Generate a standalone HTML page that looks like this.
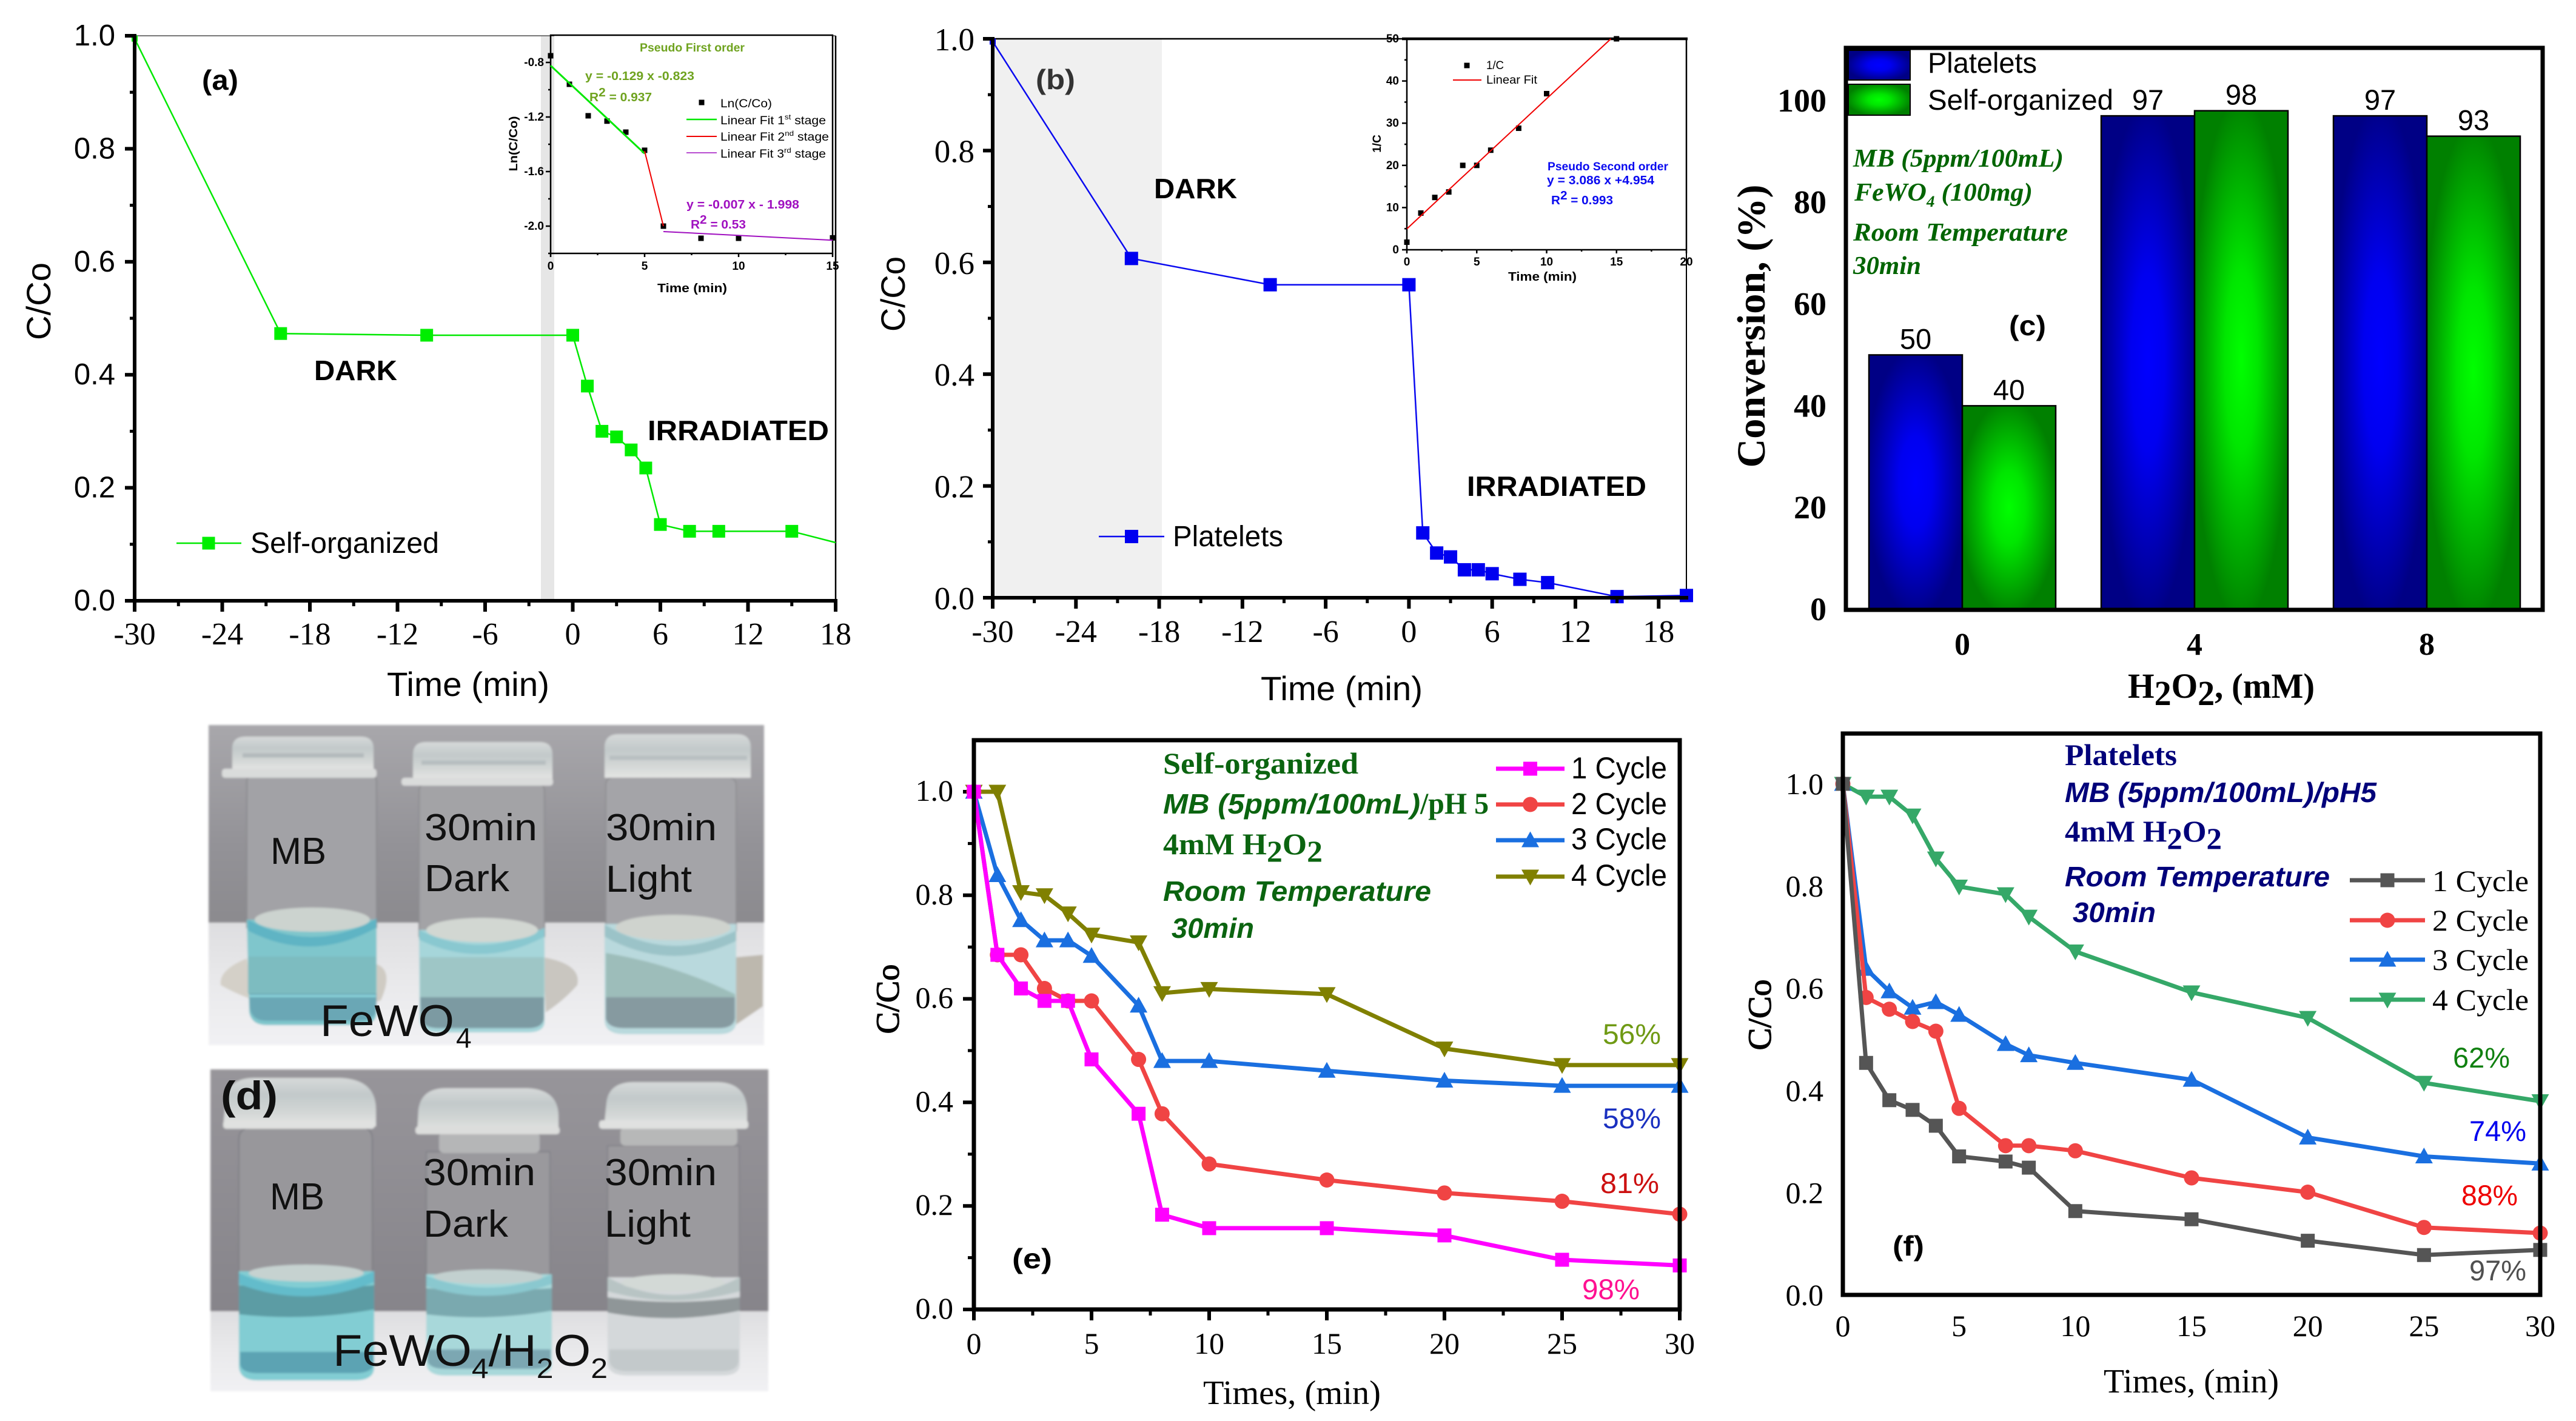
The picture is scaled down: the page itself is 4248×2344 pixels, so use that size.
<!DOCTYPE html>
<html lang="en">
<head>
<meta charset="utf-8">
<title>FeWO4 photocatalysis figure</title>
<style>
html,body{margin:0;padding:0;background:#fff;}
svg{display:block;}
.s{font-family:"Liberation Sans",sans-serif;}
.r{font-family:"Liberation Serif",serif;}
.b{font-weight:bold;}
.i{font-style:italic;}
</style>
</head>
<body>
<svg id="figure" xmlns="http://www.w3.org/2000/svg" width="4248" height="2344" viewBox="0 0 4248 2344">
<defs>
<radialGradient id="blueBar" cx="50%" cy="50%" r="60%"><stop offset="0" stop-color="#0000ff"/><stop offset=".3" stop-color="#0000f0"/><stop offset=".88" stop-color="#000085"/></radialGradient>
<radialGradient id="greenBar" cx="50%" cy="50%" r="60%"><stop offset="0" stop-color="#00ff00"/><stop offset=".3" stop-color="#00e600"/><stop offset=".88" stop-color="#008000"/></radialGradient>
<linearGradient id="wall1" x1="0" y1="0" x2="0" y2="1"><stop offset="0" stop-color="#a8a7ab"/><stop offset=".6" stop-color="#939297"/><stop offset="1" stop-color="#8b8a8e"/></linearGradient>
<linearGradient id="wall2" x1="0" y1="0" x2="0" y2="1"><stop offset="0" stop-color="#97959a"/><stop offset="1" stop-color="#86848a"/></linearGradient>
<linearGradient id="table" x1="0" y1="0" x2="0" y2="1"><stop offset="0" stop-color="#dedee0"/><stop offset=".5" stop-color="#e9e9eb"/><stop offset="1" stop-color="#f1f1f4"/></linearGradient>
<linearGradient id="capFill" x1="0" y1="0" x2="0" y2="1"><stop offset="0" stop-color="#d6d9d9"/><stop offset=".35" stop-color="#c2c9ca"/><stop offset=".7" stop-color="#d2d6d5"/><stop offset="1" stop-color="#e4e5e4"/></linearGradient>
<filter id="soft" x="-3%" y="-3%" width="106%" height="106%"><feGaussianBlur stdDeviation="1.8"/></filter>
</defs>

<!-- PHOTOS (d) -->
<g id="photo-one">
<g filter="url(#soft)">
<rect x="344" y="1196" width="916" height="328" fill="url(#wall1)"/>
<rect x="344" y="1522" width="916" height="202" fill="url(#table)"/>
<path d="M620 1590Q650 1600 628 1650L600 1660Z" fill="#cfcbc3"/>
<path d="M407 1581Q360 1600 364 1625Q390 1640 420 1650Z" fill="#d4d0c8"/>
<path d="M895 1579Q960 1590 952 1625Q930 1650 900 1670Z" fill="#c9c6c0"/>
<path d="M1214 1579L1258 1575V1660L1214 1690Z" fill="#bdb8ae"/>
<g>
<path d="M407 1290Q407 1278 420 1278H608Q621 1278 621 1290V1530H407Z" fill="#a2a2a6" stroke="#8a8a8e" stroke-width="2"/>
<path d="M407 1517H621V1670Q621 1691 590 1691H440Q415 1691 411 1670Z" fill="#7fc6cc"/>
<path d="M409 1578H620V1639H409Z" fill="#7dbcc0"/>
<path d="M411 1639H621V1662Q620 1684 590 1684H440Q415 1684 412 1662Z" fill="#6aa7b5"/>
<path d="M411 1643H620" stroke="#8fdbe2" stroke-width="3"/>
<path d="M409 1517Q515 1575 621 1515V1530Q515 1590 409 1535Z" fill="#5fb4c4"/>
<ellipse cx="515" cy="1517" rx="95" ry="20" fill="#ccd3cf"/>
<path d="M383 1235Q383 1215 405 1215H595Q616 1215 616 1235V1270H383Z" fill="url(#capFill)"/>
<rect x="366" y="1268" width="255" height="15" rx="5" fill="#dadcdb"/>
<path d="M400 1246H600" stroke="#b2babc" stroke-width="7"/>
</g>
<g>
<path d="M691 1305Q691 1293 704 1293H885Q898 1293 898 1305V1545H691Z" fill="#a3a3a6" stroke="#8c8c90" stroke-width="2"/>
<path d="M691 1534H898V1685Q898 1703 870 1703H725Q695 1703 692 1685Z" fill="#a6d6da"/>
<path d="M693 1579H897V1645H693Z" fill="#9ec6c6"/>
<path d="M693 1645H897V1680Q895 1696 870 1696H725Q697 1696 694 1680Z" fill="#7c9aa2"/>
<path d="M691 1534Q795 1585 898 1530V1545Q795 1600 691 1550Z" fill="#89c8d0"/>
<ellipse cx="795" cy="1534" rx="92" ry="20" fill="#d2d7d2"/>
<path d="M681 1245Q681 1224 702 1224H890Q911 1224 911 1245V1285H681Z" fill="url(#capFill)"/>
<rect x="662" y="1283" width="250" height="13" rx="5" fill="#dadcdb"/>
<path d="M695 1258H900" stroke="#b6bdbf" stroke-width="7"/>
</g>
<g>
<path d="M999 1295Q999 1283 1012 1283H1200Q1214 1283 1214 1295V1535H999Z" fill="#a4a4a8" stroke="#8e8e92" stroke-width="2"/>
<path d="M997 1524H1214V1685Q1214 1706 1185 1706H1030Q999 1706 997 1685Z" fill="#b9d9dd"/>
<path d="M999 1572Q1110 1590 1212 1640V1645H999Z" fill="#9dbdba"/>
<path d="M999 1645H1212V1680Q1210 1696 1185 1696H1030Q1002 1696 999 1680Z" fill="#869aa0"/>
<path d="M997 1525Q1105 1590 1214 1535V1552Q1105 1605 997 1545Z" fill="#9bc3c8"/>
<ellipse cx="1110" cy="1530" rx="95" ry="21" fill="#cfd3ce"/>
<path d="M997 1233Q997 1211 1020 1211H1215Q1238 1211 1238 1233V1283H997Z" fill="url(#capFill)"/>
<path d="M1005 1250H1232" stroke="#b8bfc1" stroke-width="7"/>
</g>
</g>
</g>
<g id="photo-two">
<g filter="url(#soft)">
<rect x="347" y="1764" width="920" height="400" fill="url(#wall2)"/>
<rect x="347" y="2163" width="920" height="132" fill="url(#table)"/>
<g>
<path d="M394 1880Q394 1860 415 1860H595Q614 1860 614 1880V2110H394Z" fill="#98979b" stroke="#7e7e83" stroke-width="2"/>
<path d="M394 2097H617V2255Q617 2277 585 2277H425Q396 2277 394 2255Z" fill="#82cdd3"/>
<path d="M394 2120Q505 2130 617 2120V2160Q505 2180 394 2168Z" fill="#5c9ca4"/>
<path d="M396 2230H616V2250Q614 2265 585 2265H425Q398 2265 396 2250Z" fill="#5ba3b3"/>
<path d="M394 2100Q505 2150 617 2097V2115Q505 2160 394 2118Z" fill="#63bccb"/>
<ellipse cx="505" cy="2100" rx="95" ry="14" fill="#c6d2d0"/>
<path d="M372 1815Q375 1778 420 1778H560Q620 1780 620 1830V1858H368Z" fill="url(#capFill)"/>
<rect x="368" y="1848" width="250" height="14" rx="5" fill="#e0e1e0"/>
</g>
<g>
<path d="M703 1900H907V2115H703Z" fill="#9a999d" stroke="#828287" stroke-width="2"/>
<path d="M703 2102H910V2250Q910 2269 880 2269H735Q705 2269 703 2250Z" fill="#a8d8da"/>
<path d="M703 2125Q805 2132 910 2125V2162Q805 2180 703 2168Z" fill="#7aa9af"/>
<path d="M705 2226H908V2245Q906 2258 880 2258H735Q708 2258 705 2245Z" fill="#7ba7b2"/>
<path d="M703 2104Q805 2145 910 2102V2118Q805 2155 703 2122Z" fill="#8ac8cf"/>
<ellipse cx="805" cy="2106" rx="90" ry="12" fill="#c2d0cf"/>
<rect x="724" y="1868" width="166" height="34" rx="8" fill="#b5b6b7"/>
<path d="M690 1830Q695 1795 735 1795H870Q920 1797 921 1840V1868H688Z" fill="url(#capFill)"/>
<rect x="685" y="1858" width="238" height="13" rx="5" fill="#dcdddc"/>
</g>
<g>
<path d="M1002 1890H1219V2120H1002Z" fill="#9b9a9e" stroke="#838388" stroke-width="2"/>
<path d="M1002 2107H1220V2250Q1220 2269 1190 2269H1035Q1004 2269 1002 2250Z" fill="#d4d8da"/>
<path d="M1002 2140Q1110 2155 1220 2140V2162Q1110 2185 1002 2165Z" fill="#8f9698"/>
<path d="M1002 2107Q1110 2165 1220 2107V2130Q1110 2160 1002 2130Z" fill="#b8c4c4"/>
<path d="M1005 2226H1218V2245Q1216 2262 1190 2262H1035Q1008 2262 1005 2245Z" fill="#c3c9cb"/>
<ellipse cx="1110" cy="2116" rx="85" ry="14" fill="#d3d9d6"/>
<rect x="1023" y="1860" width="193" height="30" rx="8" fill="#b7b8b8"/>
<path d="M1000 1820Q1003 1785 1045 1785H1185Q1230 1787 1232 1830V1860H996Z" fill="url(#capFill)"/>
<rect x="988" y="1848" width="246" height="14" rx="5" fill="#e0e1e0"/>
</g>
</g>
</g>
<g id="photo-labels" class="s" font-size="62" fill="#111">
<text x="446" y="1425" textLength="92" lengthAdjust="spacingAndGlyphs">MB</text>
<text x="700" y="1386" textLength="186" lengthAdjust="spacingAndGlyphs">30min</text>
<text x="700" y="1470" textLength="140" lengthAdjust="spacingAndGlyphs">Dark</text>
<text x="999" y="1386" textLength="183" lengthAdjust="spacingAndGlyphs">30min</text>
<text x="999" y="1471" textLength="142" lengthAdjust="spacingAndGlyphs">Light</text>
<text x="528" y="1709" font-size="73" textLength="221" lengthAdjust="spacingAndGlyphs">FeWO</text>
<text x="752" y="1728" font-size="46">4</text>
<text class="b" x="364" y="1830" font-size="66" textLength="94" lengthAdjust="spacingAndGlyphs">(d)</text>
<text x="445" y="1995" textLength="90" lengthAdjust="spacingAndGlyphs">MB</text>
<text x="698" y="1955" textLength="185" lengthAdjust="spacingAndGlyphs">30min</text>
<text x="698" y="2040" textLength="140" lengthAdjust="spacingAndGlyphs">Dark</text>
<text x="997" y="1955" textLength="185" lengthAdjust="spacingAndGlyphs">30min</text>
<text x="997" y="2040" textLength="142" lengthAdjust="spacingAndGlyphs">Light</text>
<text x="549" y="2253" font-size="73" textLength="453" lengthAdjust="spacingAndGlyphs">FeWO<tspan font-size="46" dy="20">4</tspan><tspan dy="-20">/H</tspan><tspan font-size="46" dy="20">2</tspan><tspan dy="-20">O</tspan><tspan font-size="46" dy="20">2</tspan></text>
</g>

<!-- PANEL A -->
<g id="panel-a"></g>
<g id="panel-a-text" fill="#000">
<text class="s b" x="333" y="148" font-size="46" textLength="60" lengthAdjust="spacingAndGlyphs">(a)</text>
<text class="s b" x="518" y="627" font-size="46" textLength="137" lengthAdjust="spacingAndGlyphs">DARK</text>
<text class="s b" x="1068" y="726" font-size="46" textLength="299" lengthAdjust="spacingAndGlyphs">IRRADIATED</text>
<text class="s" x="413" y="912" font-size="48" textLength="311" lengthAdjust="spacingAndGlyphs">Self-organized</text>
<text class="s" transform="translate(83,497) rotate(-90)" text-anchor="middle" font-size="56" textLength="128" lengthAdjust="spacingAndGlyphs">C/Co</text>
<text class="s" x="638" y="1148" font-size="56" textLength="268" lengthAdjust="spacingAndGlyphs">Time (min)</text>
</g>
<g id="inset-a"></g>
<g id="inset-a-text" class="s" font-size="19">
<text class="b" x="1055" y="85" fill="#6fa31f" textLength="173" lengthAdjust="spacingAndGlyphs">Pseudo First order</text>
<text class="b" x="965" y="132" font-size="20" fill="#6fa31f" textLength="180" lengthAdjust="spacingAndGlyphs">y = -0.129 x -0.823</text>
<text class="b" x="972" y="167" font-size="20" fill="#6fa31f" textLength="103" lengthAdjust="spacingAndGlyphs">R<tspan dy="-8">2</tspan><tspan dy="8"> = 0.937</tspan></text>
<text x="1188" y="177" textLength="85" lengthAdjust="spacingAndGlyphs">Ln(C/Co)</text>
<text x="1188" y="205" textLength="174" lengthAdjust="spacingAndGlyphs">Linear Fit 1<tspan font-size="12" dy="-8">st</tspan><tspan dy="8"> stage</tspan></text>
<text x="1188" y="232" textLength="179" lengthAdjust="spacingAndGlyphs">Linear Fit 2<tspan font-size="12" dy="-8">nd</tspan><tspan dy="8"> stage</tspan></text>
<text x="1188" y="260" textLength="174" lengthAdjust="spacingAndGlyphs">Linear Fit 3<tspan font-size="12" dy="-8">rd</tspan><tspan dy="8"> stage</tspan></text>
<text class="b" x="1132" y="344" font-size="20" fill="#a010c0" textLength="186" lengthAdjust="spacingAndGlyphs">y = -0.007 x - 1.998</text>
<text class="b" x="1139" y="377" font-size="20" fill="#a010c0" textLength="91" lengthAdjust="spacingAndGlyphs">R<tspan dy="-8">2</tspan><tspan dy="8"> = 0.53</tspan></text>
<text class="b" x="1084" y="482" font-size="20" textLength="115" lengthAdjust="spacingAndGlyphs">Time (min)</text>
<text class="b" transform="translate(853,237) rotate(-90)" text-anchor="middle" font-size="19" textLength="91" lengthAdjust="spacingAndGlyphs">Ln(C/Co)</text>
</g>

<!-- PANEL B -->
<g id="panel-b"></g>
<g id="panel-b-text" fill="#000">
<text class="s b" x="1708" y="147" font-size="46" fill="#333" textLength="65" lengthAdjust="spacingAndGlyphs">(b)</text>
<text class="s b" x="1903" y="327" font-size="46" textLength="137" lengthAdjust="spacingAndGlyphs">DARK</text>
<text class="s b" x="2419" y="818" font-size="46" textLength="296" lengthAdjust="spacingAndGlyphs">IRRADIATED</text>
<text class="s" x="1934" y="901" font-size="48" textLength="182" lengthAdjust="spacingAndGlyphs">Platelets</text>
<text class="s" transform="translate(1492,485) rotate(-90)" text-anchor="middle" font-size="56" textLength="124" lengthAdjust="spacingAndGlyphs">C/Co</text>
<text class="s" x="2079" y="1155" font-size="56" textLength="267" lengthAdjust="spacingAndGlyphs">Time (min)</text>
</g>
<g id="inset-b"></g>
<g id="inset-b-text" class="s" font-size="19">
<text x="2451" y="114" textLength="29" lengthAdjust="spacingAndGlyphs">1/C</text>
<text x="2451" y="138" textLength="84" lengthAdjust="spacingAndGlyphs">Linear Fit</text>
<text class="b" x="2552" y="281" fill="#0a0af0" textLength="199" lengthAdjust="spacingAndGlyphs">Pseudo Second order</text>
<text class="b" x="2551" y="304" font-size="20" fill="#0a0af0" textLength="177" lengthAdjust="spacingAndGlyphs">y = 3.086 x +4.954</text>
<text class="b" x="2558" y="337" font-size="20" fill="#0a0af0" textLength="102" lengthAdjust="spacingAndGlyphs">R<tspan dy="-8">2</tspan><tspan dy="8"> = 0.993</tspan></text>
<text class="b" x="2487" y="463" font-size="20" textLength="113" lengthAdjust="spacingAndGlyphs">Time (min)</text>
<text class="b" transform="translate(2277,237) rotate(-90)" text-anchor="middle" font-size="19">1/C</text>
</g>

<!-- PANEL C -->
<g id="panel-c"></g>
<g id="panel-c-text">
<rect x="3048" y="83" width="102" height="49" fill="url(#blueBar)" stroke="#000" stroke-width="2"/>
<rect x="3048" y="139" width="102" height="51" fill="url(#greenBar)" stroke="#000" stroke-width="2"/>
<text class="s" x="3179" y="120" font-size="47" textLength="180" lengthAdjust="spacingAndGlyphs">Platelets</text>
<text class="s" x="3179" y="181" font-size="47" textLength="306" lengthAdjust="spacingAndGlyphs">Self-organized</text>
<g class="r b i" fill="#006400" font-size="42">
<text x="3056" y="275" textLength="347" lengthAdjust="spacingAndGlyphs">MB (5ppm/100mL)</text>
<text x="3058" y="331" textLength="294" lengthAdjust="spacingAndGlyphs">FeWO<tspan font-size="26" dy="10">4</tspan><tspan dy="-10"> (100mg)</tspan></text>
<text x="3056" y="397" textLength="354" lengthAdjust="spacingAndGlyphs">Room Temperature</text>
<text x="3056" y="452" textLength="112" lengthAdjust="spacingAndGlyphs">30min</text>
</g>
<text class="s b" x="3313" y="553" font-size="46" textLength="61" lengthAdjust="spacingAndGlyphs">(c)</text>
<text class="r b" transform="translate(2910,538) rotate(-90)" text-anchor="middle" font-size="66" textLength="467" lengthAdjust="spacingAndGlyphs">Conversion, (%)</text>
<text class="r b" x="3509" y="1151" font-size="58" textLength="308" lengthAdjust="spacingAndGlyphs">H<tspan dy="12">2</tspan><tspan dy="-12">O</tspan><tspan dy="12">2</tspan><tspan dy="-12">, (mM)</tspan></text>
</g>

<!-- PANEL E -->
<g id="panel-e"></g>
<g id="panel-e-text">
<g fill="#0b6410">
<text class="r b" x="1918" y="1276" font-size="50" textLength="322" lengthAdjust="spacingAndGlyphs">Self-organized</text>
<text class="s b i" x="1918" y="1342" font-size="46" textLength="424" lengthAdjust="spacingAndGlyphs">MB (5ppm/100mL)</text>
<text class="r b" x="2342" y="1342" font-size="50" textLength="113" lengthAdjust="spacingAndGlyphs">/pH 5</text>
<text class="r b" x="1918" y="1409" font-size="50" textLength="263" lengthAdjust="spacingAndGlyphs">4mM H<tspan dy="12">2</tspan><tspan dy="-12">O</tspan><tspan dy="12">2</tspan></text>
<text class="s b i" x="1918" y="1486" font-size="46" textLength="442" lengthAdjust="spacingAndGlyphs">Room Temperature</text>
<text class="s b i" x="1932" y="1547" font-size="46" textLength="136" lengthAdjust="spacingAndGlyphs">30min</text>
</g>
<text class="s b" x="1669" y="2092" font-size="46" textLength="66" lengthAdjust="spacingAndGlyphs">(e)</text>
<text class="r" stroke="#000" stroke-width="1.2" transform="translate(1482,1648) rotate(-90)" text-anchor="middle" font-size="54" textLength="115" lengthAdjust="spacingAndGlyphs">C/Co</text>
<text class="r" x="1984" y="2316" font-size="56" textLength="293" lengthAdjust="spacingAndGlyphs">Times, (min)</text>
<g class="s" font-size="47">
<text x="2643" y="1722" fill="#6f9a14" textLength="96" lengthAdjust="spacingAndGlyphs">56%</text>
<text x="2643" y="1861" fill="#1a30c0" textLength="96" lengthAdjust="spacingAndGlyphs">58%</text>
<text x="2639" y="1968" fill="#cc1010" textLength="97" lengthAdjust="spacingAndGlyphs">81%</text>
<text x="2609" y="2143" fill="#ff1090" textLength="95" lengthAdjust="spacingAndGlyphs">98%</text>
</g>
</g>

<!-- PANEL F -->
<g id="panel-f"></g>
<g id="panel-f-text">
<g fill="#00007a">
<text class="r b" x="3405" y="1262" font-size="50" textLength="185" lengthAdjust="spacingAndGlyphs">Platelets</text>
<text class="s b i" x="3405" y="1323" font-size="46" textLength="514" lengthAdjust="spacingAndGlyphs">MB (5ppm/100mL)/pH5</text>
<text class="r b" x="3405" y="1388" font-size="50" textLength="259" lengthAdjust="spacingAndGlyphs">4mM H<tspan dy="12">2</tspan><tspan dy="-12">O</tspan><tspan dy="12">2</tspan></text>
<text class="s b i" x="3405" y="1462" font-size="46" textLength="437" lengthAdjust="spacingAndGlyphs">Room Temperature</text>
<text class="s b i" x="3418" y="1521" font-size="46" textLength="137" lengthAdjust="spacingAndGlyphs">30min</text>
</g>
<text class="s b" x="3121" y="2071" font-size="46" textLength="52" lengthAdjust="spacingAndGlyphs">(f)</text>
<text class="r" stroke="#000" stroke-width="1.2" transform="translate(2920,1674) rotate(-90)" text-anchor="middle" font-size="54" textLength="117" lengthAdjust="spacingAndGlyphs">C/Co</text>
<text class="r" x="3469" y="2297" font-size="56" textLength="289" lengthAdjust="spacingAndGlyphs">Times, (min)</text>
<g class="s" font-size="47">
<text x="4045" y="1761" fill="#108010" textLength="94" lengthAdjust="spacingAndGlyphs">62%</text>
<text x="4072" y="1882" fill="#0000ee" textLength="94" lengthAdjust="spacingAndGlyphs">74%</text>
<text x="4059" y="1988" fill="#ee0000" textLength="93" lengthAdjust="spacingAndGlyphs">88%</text>
<text x="4072" y="2112" fill="#505050" textLength="94" lengthAdjust="spacingAndGlyphs">97%</text>
</g>
</g>
</svg>

<script>
// ---------- panel (a) data ----------
const aTimes = [-30, -20, -10, 0, 1, 2, 3, 4, 5, 6, 8, 10, 15];
const aValues = [0.995, 0.473, 0.47, 0.47, 0.38, 0.30, 0.29, 0.267, 0.235, 0.135, 0.123, 0.123, 0.123];
const aTailTimes = [15, 18];
const aTailValues = [0.123, 0.103];
const aXTicks = [-30, -24, -18, -12, -6, 0, 6, 12, 18];
const aXMinor = [-27, -21, -15, -9, -3, 3, 9, 15];
const ccoTicks = [0, 0.2, 0.4, 0.6, 0.8, 1.0];
const ccoMinor = [0.1, 0.3, 0.5, 0.7, 0.9];
// inset (a)
const iaTimes = [0, 1, 2, 3, 4, 5, 6, 8, 10, 15];
const iaValues = [-0.751, -0.96, -1.191, -1.23, -1.311, -1.444, -2.0, -2.089, -2.089, -2.086];
const iaFit1Times = [0, 5];
const iaFit1Values = [-0.823, -1.468];
const iaFit2Times = [5, 6];
const iaFit2Values = [-1.45, -2.0];
const iaFit3Times = [6, 15];
const iaFit3Values = [-2.04, -2.103];
const iaXTicks = [0, 5, 10, 15];
const iaXMinor = [2.5, 7.5, 12.5];
const iaYTicks = [-0.8, -1.2, -1.6, -2.0];
const iaYMinor = [-1.0, -1.4, -1.8, -2.2];
// ---------- panel (b) data ----------
const bTimes = [-30, -20, -10, 0, 1, 2, 3, 4, 5, 6, 8, 10, 15, 20];
const bValues = [0.995, 0.607, 0.56, 0.56, 0.116, 0.08, 0.073, 0.05, 0.05, 0.043, 0.033, 0.027, 0.002, 0.004];
// inset (b)
const ibTimes = [0, 1, 2, 3, 4, 5, 6, 8, 10, 15];
const ibValues = [1.8, 8.7, 12.4, 13.7, 20, 20, 23.6, 28.8, 37, 50];
const ibFitTimes = [0, 14.6];
const ibFitValues = [4.954, 50];
const ibXTicks = [0, 5, 10, 15, 20];
const ibXMinor = [2.5, 7.5, 12.5, 17.5];
const ibYTicks = [0, 10, 20, 30, 40, 50];
const ibYMinor = [5, 15, 25, 35, 45];
// ---------- panel (c) data ----------
const barCategories = ['0', '4', '8'];
const plateletsConversion = [50, 97, 97];
const selfOrganizedConversion = [40, 98, 93];
const cYTicks = [0, 20, 40, 60, 80, 100];
// ---------- panels (e), (f) data ----------
const cycleTimes = [0, 1, 2, 3, 4, 5, 7, 8, 10, 15, 20, 25, 30];
const e1Cycle = [1, 0.685, 0.62, 0.596, 0.596, 0.483, 0.378, 0.183, 0.157, 0.157, 0.143, 0.096, 0.085];
const e2Cycle = [1, 0.685, 0.685, 0.62, 0.596, 0.596, 0.483, 0.378, 0.281, 0.25, 0.225, 0.209, 0.184];
const e3Cycle = [1, 0.839, 0.752, 0.713, 0.713, 0.683, 0.587, 0.48, 0.48, 0.461, 0.442, 0.432, 0.432];
const e4Cycle = [1, 1, 0.806, 0.80, 0.765, 0.724, 0.709, 0.611, 0.619, 0.609, 0.504, 0.472, 0.472];
const f1Cycle = [1, 0.454, 0.381, 0.362, 0.331, 0.271, 0.261, 0.249, 0.164, 0.148, 0.106, 0.078, 0.088];
const f2Cycle = [1, 0.582, 0.559, 0.535, 0.516, 0.365, 0.292, 0.292, 0.282, 0.229, 0.201, 0.132, 0.121];
const f3Cycle = [1, 0.638, 0.594, 0.562, 0.573, 0.548, 0.491, 0.469, 0.454, 0.421, 0.308, 0.271, 0.257];
const f4Cycle = [1, 0.975, 0.975, 0.938, 0.854, 0.799, 0.784, 0.74, 0.672, 0.592, 0.542, 0.415, 0.379];
const cycleXTicks = [0, 5, 10, 15, 20, 25, 30];
const cycleXMinor = [2.5, 7.5, 12.5, 17.5, 22.5, 27.5];
const cycleLabels = ['1 Cycle', '2 Cycle', '3 Cycle', '4 Cycle'];

const NS = 'http://www.w3.org/2000/svg';
function mk(tag, parent, name, attrs, txt) {
  const el = document.createElementNS(NS, tag);
  for (const k in attrs) el.setAttribute(k, attrs[k]);
  
  
  if (txt !== undefined) el.textContent = txt;
  parent.appendChild(el);
  return el;
}
function linear(d0, d1, r0, r1) { return v => r0 + (v - d0) * (r1 - r0) / (d1 - d0); }
function seg(p, name, x1, y1, x2, y2, c, w, extra) {
  return mk('line', p, name, Object.assign({x1, y1, x2, y2, stroke: c, 'stroke-width': w}, extra || {}));
}
function series(p, name, xs, ys, sx, sy, c, w) {
  const pts = xs.map((x, i) => sx(x).toFixed(1) + ',' + sy(ys[i]).toFixed(1)).join(' ');
  return mk('polyline', p, name, {points: pts, fill: 'none', stroke: c, 'stroke-width': w, 'stroke-linejoin': 'round'});
}
function marker(p, name, shape, cx, cy, size, c) {
  const h = size / 2;
  if (shape === 'square') return mk('rect', p, name, {x: cx - h, y: cy - h, width: size, height: size, fill: c});
  if (shape === 'circle') return mk('circle', p, name, {cx, cy, r: h + 1, fill: c});
  const t = h + 3;
  const d = shape === 'up'
    ? `M${cx - t} ${cy + h}L${cx} ${cy - t}L${cx + t} ${cy + h}Z`
    : `M${cx - t} ${cy - h}L${cx} ${cy + t}L${cx + t} ${cy - h}Z`;
  return mk('path', p, name, {d, fill: c});
}
function markers(p, name, shape, xs, ys, sx, sy, size, c, firstSize) {
  xs.forEach((x, i) => marker(p, name, shape, sx(x), sy(ys[i]), (i === 0 && firstSize) ? firstSize : size, c));
}
function xTicks(p, vals, sx, yBase, len, w) { vals.forEach(v => seg(p, 'x-tick', sx(v), yBase, sx(v), yBase + len, '#000', w)); }
function yTicks(p, vals, sy, xBase, len, w) { vals.forEach(v => seg(p, 'y-tick', xBase - len, sy(v), xBase, sy(v), '#000', w)); }
function xLabels(p, vals, sx, base, cls, size, fmt) {
  vals.forEach(v => mk('text', p, 'x-tick-label', {class: cls, x: sx(v), y: base, 'font-size': size, 'text-anchor': 'middle'}, fmt ? fmt(v) : String(v)));
}
function yLabels(p, vals, sy, right, off, cls, size, fmt) {
  vals.forEach(v => mk('text', p, 'y-tick-label', {class: cls, x: right, y: sy(v) + off, 'font-size': size, 'text-anchor': 'end'}, fmt ? fmt(v) : String(v)));
}
const f1 = v => v.toFixed(1);

// ---------- PANEL A ----------
(function () {
  const g = document.getElementById('panel-a');
  const sx = linear(-30, 18, 222, 1378), sy = linear(0, 1, 991, 59);
  mk('rect', g, 'transition-band', {x: 892, y: 59, width: 22, height: 932, fill: '#e6e6e6'});
  seg(g, 'top-border', 222, 59, 1378, 59, '#777', 2);
  seg(g, 'right-border', 1378, 59, 1378, 991, '#000', 2.5);
  series(g, 'self-organized-line', aTimes, aValues, sx, sy, '#00e800', 2.5);
  series(g, 'self-organized-tail', aTailTimes, aTailValues, sx, sy, '#00e800', 2.5);
  markers(g, 'self-organized-point', 'square', aTimes, aValues, sx, sy, 21, '#00ee00', 10);
  seg(g, 'y-axis', 222, 56, 222, 994, '#000', 6);
  seg(g, 'x-axis', 219, 991, 1381, 991, '#000', 6);
  xTicks(g, aXTicks, sx, 991, 18, 6);
  xTicks(g, aXMinor, sx, 991, 9, 5);
  yTicks(g, ccoTicks, sy, 222, 16, 6);
  yTicks(g, ccoMinor, sy, 222, 8, 5);
  xLabels(g, aXTicks, sx, 1063, 'r', 52);
  yLabels(g, ccoTicks, sy, 190, 16, 's', 49, f1);
  seg(g, 'legend-line', 291, 896, 398, 896, '#00e800', 2.5);
  marker(g, 'legend-marker', 'square', 344, 896, 21, '#00ee00');
  // inset
  const n = document.getElementById('inset-a');
  const ix = linear(0, 15, 908, 1373), iy = linear(-0.8, -2.0, 103, 373);
  mk('rect', n, 'inset-background', {x: 914, y: 58, width: 459, height: 360, fill: '#fff'});
  mk('path', n, 'inset-frame', {d: 'M908 58H1373V418H908Z', fill: 'none', stroke: '#000', 'stroke-width': 2.5});
  markers(n, 'ln-point', 'square', iaTimes, iaValues, ix, iy, 9, '#000');
  series(n, 'fit-stage-1', iaFit1Times, iaFit1Values, ix, iy, '#00e800', 3);
  series(n, 'fit-stage-2', iaFit2Times, iaFit2Values, ix, iy, '#f00000', 2);
  series(n, 'fit-stage-3', iaFit3Times, iaFit3Values, ix, iy, '#a010c0', 2);
  xTicks(n, iaXTicks, ix, 418, 6, 2.5);
  xTicks(n, iaXMinor, ix, 418, 3, 2.5);
  yTicks(n, iaYTicks, iy, 908, 8, 2.5);
  yTicks(n, iaYMinor, iy, 908, 4, 2.5);
  xLabels(n, iaXTicks, ix, 445, 's b', 19);
  yLabels(n, iaYTicks, iy, 897, 6, 's b', 19, f1);
  marker(n, 'legend-marker', 'square', 1157, 169, 9, '#000');
  seg(n, 'legend-line-stage-1', 1132, 197, 1182, 197, '#00e800', 2.5);
  seg(n, 'legend-line-stage-2', 1132, 225, 1182, 225, '#f00000', 2);
  seg(n, 'legend-line-stage-3', 1132, 252, 1182, 252, '#a010c0', 1.5);
})();

// ---------- PANEL B ----------
(function () {
  const g = document.getElementById('panel-b');
  const sx = linear(-30, 20, 1637, 2781), sy = linear(0, 1, 986, 64);
  mk('rect', g, 'dark-period-band', {x: 1637, y: 64, width: 279, height: 922, fill: '#f0f0f0'});
  seg(g, 'top-border', 1637, 64, 2781, 64, '#000', 2.5);
  seg(g, 'right-border', 2781, 64, 2781, 986, '#000', 2);
  series(g, 'platelets-line', bTimes, bValues, sx, sy, '#0a0af0', 2.5);
  markers(g, 'platelets-point', 'square', bTimes, bValues, sx, sy, 22, '#0000f0', 10);
  seg(g, 'y-axis', 1637, 61, 1637, 989, '#000', 6);
  seg(g, 'x-axis', 1634, 986, 2784, 986, '#000', 6);
  const xt = aXTicks, xm = aXMinor;
  xTicks(g, xt, sx, 986, 18, 6);
  xTicks(g, xm, sx, 986, 9, 5);
  yTicks(g, ccoTicks, sy, 1637, 16, 6);
  yTicks(g, ccoMinor, sy, 1637, 8, 5);
  xLabels(g, xt, sx, 1059, 'r', 52);
  yLabels(g, ccoTicks, sy, 1607, 19, 'r', 53, f1);
  seg(g, 'legend-line', 1812, 885, 1920, 885, '#0a0af0', 2.5);
  marker(g, 'legend-marker', 'square', 1866, 885, 22, '#0000f0');
  const n = document.getElementById('inset-b');
  const ix = linear(0, 20, 2320, 2781), iy = linear(0, 50, 412, 64);
  mk('rect', n, 'inset-background', {x: 2320, y: 64, width: 461, height: 348, fill: '#fff'});
  seg(n, 'inset-left', 2320, 64, 2320, 412, '#000', 2.5);
  seg(n, 'inset-bottom', 2320, 412, 2781, 412, '#000', 2.5);
  seg(n, 'inset-top', 2312, 64, 2783, 64, '#000', 4.5);
  seg(n, 'inset-right', 2781, 64, 2781, 412, '#000', 2.5);
  markers(n, 'inverse-concentration-point', 'square', ibTimes, ibValues, ix, iy, 9, '#000');
  series(n, 'linear-fit', ibFitTimes, ibFitValues, ix, iy, '#f00000', 2);
  xTicks(n, ibXTicks, ix, 412, 6, 2.5);
  xTicks(n, ibXMinor, ix, 412, 3, 2.5);
  yTicks(n, ibYTicks, iy, 2320, 8, 2.5);
  yTicks(n, ibYMinor, iy, 2320, 4, 2.5);
  xLabels(n, ibXTicks, ix, 438, 's b', 19);
  yLabels(n, ibYTicks, iy, 2307, 6, 's b', 19);
  marker(n, 'legend-marker', 'square', 2419, 108, 9, '#000');
  seg(n, 'legend-line', 2396, 132, 2443, 132, '#f00000', 2);
})();

// ---------- PANEL C ----------
(function () {
  const g = document.getElementById('panel-c');
  const y = linear(0, 110, 1005, 82);
  const center = i => 3236 + i * 383;
  const bw = 154;
  barCategories.forEach((c, i) => {
    const c0 = center(i);
    const py = y(plateletsConversion[i]), sy = y(selfOrganizedConversion[i]);
    mk('rect', g, 'bar-platelets', {x: c0 - bw, y: py, width: bw, height: y(0) - py, fill: 'url(#blueBar)', stroke: '#000', 'stroke-width': 2.5});
    mk('rect', g, 'bar-self-organized', {x: c0, y: sy, width: bw, height: y(0) - sy, fill: 'url(#greenBar)', stroke: '#000', 'stroke-width': 2.5});
    mk('text', g, 'bar-value-platelets', {class: 's', x: c0 - bw / 2, y: py - 10, 'font-size': 47, 'text-anchor': 'middle'}, String(plateletsConversion[i]));
    mk('text', g, 'bar-value-self-organized', {class: 's', x: c0 + bw / 2, y: sy - 10, 'font-size': 47, 'text-anchor': 'middle'}, String(selfOrganizedConversion[i]));
    mk('text', g, 'x-tick-label', {class: 'r b', x: c0, y: 1080, 'font-size': 52, 'text-anchor': 'middle'}, c);
  });
  mk('rect', g, 'plot-frame', {x: 3044, y: 79, width: 1149, height: 927, fill: 'none', stroke: '#000', 'stroke-width': 7});
  yLabels(g, cYTicks, y, 3012, 18, 'r b', 54);
})();

// ---------- PANELS E & F ----------
function cyclePanel(id, x0, x1, y0, y1, top, colors, data, opts) {
  const g = document.getElementById(id);
  const sx = linear(0, 30, x0, x1), sy = linear(0, 1, y0, y1);
  const shapes = ['square', 'circle', 'up', 'down'];
  if (opts.minorTicks) {
    xTicks(g, cycleXTicks, sx, y0, 18, 6);
    xTicks(g, cycleXMinor, sx, y0, 10, 5);
    yTicks(g, ccoTicks, sy, x0, 18, 6);
    yTicks(g, ccoMinor, sy, x0, 10, 5);
  }
  [3, 2, 1, 0].forEach(k => {
    series(g, 'cycle-' + (k + 1) + '-line', cycleTimes, data[k], sx, sy, colors[k], 7);
    markers(g, 'cycle-' + (k + 1) + '-point', shapes[k], cycleTimes, data[k], sx, sy, 23, colors[k]);
  });
  mk('rect', g, 'plot-frame', {x: x0, y: top, width: x1 - x0, height: y0 - top, fill: 'none', stroke: '#000', 'stroke-width': 7});
  xLabels(g, cycleXTicks, sx, opts.xBase, 'r', 50);
  yLabels(g, ccoTicks, sy, opts.yRight, opts.yOff, 'r', 50, f1);
  cycleLabels.forEach((lab, k) => {
    const ly = opts.legY[k];
    seg(g, 'legend-line', opts.legX0, ly, opts.legX1, ly, colors[k], 7);
    marker(g, 'legend-marker', shapes[k], (opts.legX0 + opts.legX1) / 2, ly, 23, colors[k]);
    mk('text', g, 'legend-label', {class: opts.legCls, x: opts.legTx, y: opts.legBase[k], 'font-size': 50, textLength: opts.legW, lengthAdjust: 'spacingAndGlyphs'}, lab);
  });
}
cyclePanel('panel-e', 1606, 2770, 2160, 1306, 1221,
  ['#ff00ff', '#f04444', '#1a6fe0', '#808000'], [e1Cycle, e2Cycle, e3Cycle, e4Cycle],
  {minorTicks: true, xBase: 2233, yRight: 1572, yOff: 15, legX0: 2467, legX1: 2580, legY: [1268, 1327, 1386, 1446], legTx: 2591, legBase: [1284, 1343, 1401, 1461], legCls: 's', legW: 158});
cyclePanel('panel-f', 3039, 4189, 2136, 1293, 1210,
  ['#555555', '#f04444', '#1a6fe0', '#35a868'], [f1Cycle, f2Cycle, f3Cycle, f4Cycle],
  {minorTicks: false, xBase: 2204, yRight: 3007, yOff: 17, legX0: 3875, legX1: 3999, legY: [1452, 1518, 1583, 1649], legTx: 4011, legBase: [1470, 1535, 1600, 1666], legCls: 'r', legW: 159});
</script>
</body>
</html>
